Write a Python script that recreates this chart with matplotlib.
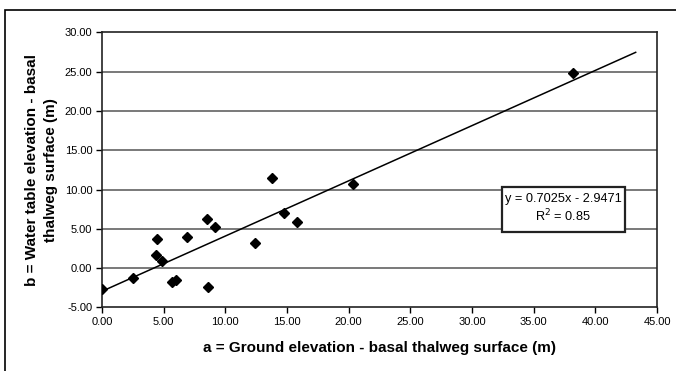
import matplotlib
matplotlib.use("Agg")
import matplotlib.pyplot as plt
import numpy as np
from matplotlib.patches import Rectangle

plt.rcParams['font.family'] = ['Liberation Sans', 'DejaVu Sans']

a_vals = [0.0, 2.54, 4.43, 4.35, 4.89, 5.65, 5.97, 6.91, 8.53, 8.62, 9.18,
          12.4, 13.8, 14.73, 15.8, 20.37, 38.2]
b_vals = [-2.71, -1.31, 3.65, 1.65, 0.93, -1.82, -1.53, 3.9, 6.2, -2.42, 5.22,
          3.18, 11.45, 7.04, 5.85, 10.65, 24.85]
slope = 0.7025
intercept = -2.9471
r2 = 0.85
trend_x = [0.0, 43.27]
x_ticks = np.arange(0, 46, 5)
y_ticks = np.arange(-5, 31, 5)

fig = plt.figure(figsize=(6.76, 3.71), dpi=100)
fig.patch.set_facecolor('white')
# outer chart border
fig.add_artist(Rectangle((5/676, -0.1), 1.2, 1 - 10/371 + 0.1,
                         transform=fig.transFigure, fill=False,
                         edgecolor='black', linewidth=1.2))

ax = fig.add_axes([102/676, 1 - 307.4/371, (657-102)/676, (307.4-32.3)/371])
ax.set_xlim(0, 45)
ax.set_ylim(-5, 30)
ax.set_xticks(x_ticks)
ax.set_yticks(y_ticks)
ax.set_xticklabels([f"{v:.2f}" for v in x_ticks], fontsize=8)
ax.set_yticklabels([f"{v:.2f}" for v in y_ticks], fontsize=8)
ax.tick_params(direction='out', length=4, width=1, colors='black', pad=3)
for s in ax.spines.values():
    s.set_linewidth(1.2)
    s.set_color('#222222')

for yv in y_ticks[1:-1]:
    ax.axhline(yv, color='#555555', linewidth=1.1, zorder=1)

tx = np.array(trend_x)
ax.plot(tx, slope * tx + intercept, color='black', linewidth=1.1, zorder=2)
ax.plot(a_vals, b_vals, linestyle='none', marker='D', markersize=5,
        color='black', zorder=3)

# equation box
ax.add_patch(Rectangle((0.7213, 0.274), 0.2210, 0.1637, transform=ax.transAxes,
                       facecolor='white', edgecolor='#222222', linewidth=1.6,
                       zorder=4))
ax.text(0.8315, 0.3595, f"y = {slope}x - {abs(intercept)}\nR$^2$ = {r2}",
        transform=ax.transAxes, ha='center', va='center', fontsize=9.2,
        linespacing=1.2, zorder=5)

ax.set_xlabel("a = Ground elevation - basal thalweg surface (m)",
              fontsize=11, fontweight='bold', labelpad=10)
ax.set_ylabel("b = Water table elevation - basal\nthalweg surface (m)",
              fontsize=11, fontweight='bold', labelpad=5, linespacing=1.45)

fig.savefig("out.png", dpi=100)
